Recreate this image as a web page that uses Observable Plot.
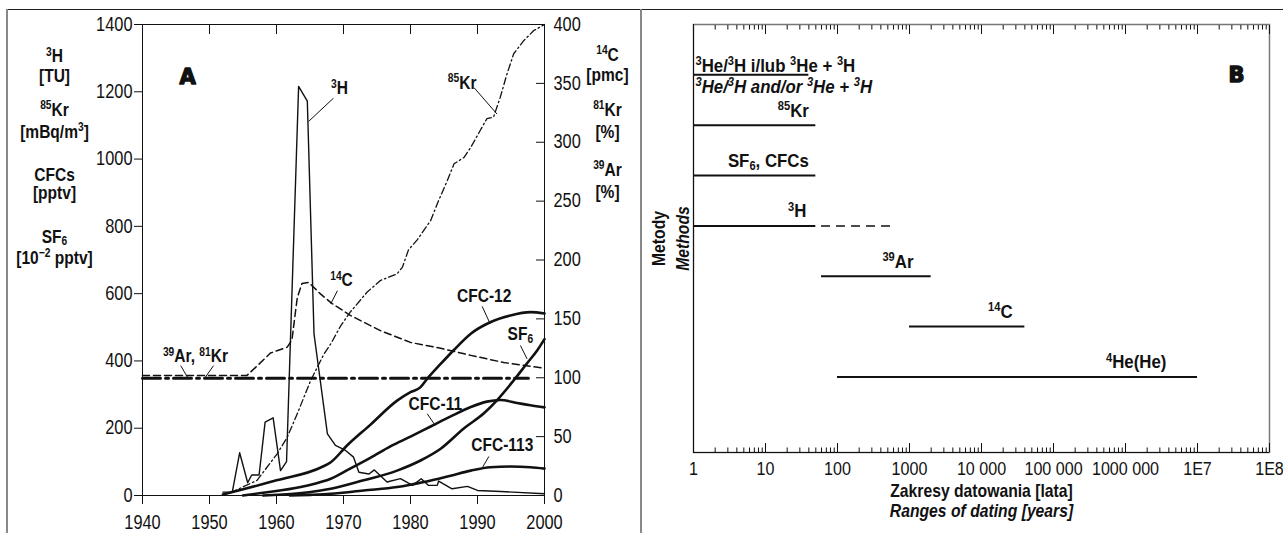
<!DOCTYPE html>
<html><head><meta charset="utf-8">
<script src="https://cdn.jsdelivr.net/npm/d3@7"></script>
<script src="https://cdn.jsdelivr.net/npm/@observablehq/plot@0.6"></script>
<style>
html,body{margin:0;padding:0;background:#fff;}
#wrap{position:relative;width:1283px;height:533px;overflow:hidden;}
#a{position:absolute;left:0;top:0;}
#b{position:absolute;left:640px;top:0;}
#ftop{position:absolute;left:6px;top:9px;width:1277px;height:0;border-top:1px solid #222;}
#fleft{position:absolute;left:6px;top:9px;width:0;height:524px;border-left:2px solid #888;}
#fmid{position:absolute;left:640px;top:9px;width:0;height:524px;border-left:2px solid #888;}
</style>
</head><body>
<div id="wrap"><div id="a"></div><div id="b"></div><div id="ftop"></div><div id="fleft"></div><div id="fmid"></div></div>
<script>
// ---------- Panel A data ----------
const tritiumTU = [[1952,10],[1953.4,10],[1954.5,127],[1955.7,38],[1956.3,61],[1957.4,61],[1958.3,218],[1959.5,231],[1960.6,74],[1961.5,101],[1963.3,1216],[1964.6,1172],[1965.6,480],[1967.6,183],[1968.8,149],[1970.3,134],[1971.5,114],[1972.3,69],[1973.8,64],[1974.6,76],[1976.5,40],[1978.5,50],[1980.3,30],[1981.6,50],[1982.7,30],[1984,30],[1984.2,43],[1986.2,20],[1988.5,27],[1990,15],[1993.5,12],[2000,5]];
const c14pmc = [[1940,102],[1955.6,102],[1957.1,110],[1959.1,121],[1961.6,126],[1962.3,132],[1963.1,168],[1963.8,180],[1964.8,181],[1966.6,171],[1968.3,163],[1971,153],[1975.5,140],[1980,130],[1984.5,125],[1989,119],[1993.9,113],[2000,108]];
const kr85 = [[1953.1,8],[1957.1,45],[1960.1,124],[1961.6,173],[1963.1,243],[1965.1,342],[1967.1,421],[1968.1,451],[1969.6,505],[1971,545],[1973.5,604],[1975.5,639],[1978,659],[1978.8,679],[1979.7,730],[1981,760],[1983,817],[1984.2,877],[1985.5,936],[1986.5,986],[1988,1005],[1989,1035],[1990.4,1085],[1991.4,1120],[1992.4,1125],[1993.4,1184],[1994.4,1253],[1995.4,1313],[1996.9,1352],[1998.4,1382],[2000,1400]];
const cfc12 = [[1952,3],[1953,8],[1960,45],[1966.7,84],[1968.1,99],[1970.6,150],[1974,210],[1978,282],[1980,307],[1981.5,322],[1982.5,347],[1984.5,391],[1986.4,431],[1989,481],[1991.9,515],[1994.9,535],[1997.9,545],[2000,541]];
const cfc11 = [[1955,0],[1958,8],[1963.6,25],[1966.6,40],[1968.1,50],[1971,80],[1974,112],[1977,146],[1980,175],[1983,205],[1986,235],[1989,263],[1991.4,279],[1993.4,284],[1995.9,275],[1997.9,268],[2000,262]];
const sf6 = [[1958,0],[1963,6],[1966.6,15],[1968.1,20],[1973,45],[1978,74],[1981.5,104],[1984.5,139],[1988,200],[1991,245],[1992.9,283],[1995.4,342],[1997.4,393],[1998.9,431],[2000,465]];
const cfc113 = [[1962,0],[1965,2],[1968.1,5],[1973,15],[1978,25],[1982,40],[1986,59],[1989,74],[1991.9,84],[1994.9,86],[1997.9,84],[2000,80]];
const arKr = [[1940,99.5],[1997.6,99.5]];

const leftTicks = [0,200,400,600,800,1000,1200,1400];
const rightTicks = [0,50,100,150,200,250,300,350,400];
const yearTicks = [1940,1950,1960,1970,1980,1990,2000];

// annotation labels (data coordinates)
const seriesLabels = [
  {t:"³H", x:1969.4, y:1210},
  {t:"⁸⁵Kr", x:1987.7, y:1226},
  {t:"¹⁴C", x:1969.7, y:639},
  {t:"CFC-12", x:1991.0, y:594},
  {t:"SF₆", x:1996.4, y:481},
  {t:"CFC-11", x:1983.7, y:273},
  {t:"CFC-113", x:1993.7, y:150},
  {t:"³⁹Ar, ⁸¹Kr", x:1947.9, y:413}
];
const leaders = [
  [1968.5,1181,1964.8,1112],[1989.5,1212,1992.9,1134],[1969.1,609,1968.1,570],
  [1990.7,562,1991.9,510],[1996.4,446,1997.4,406],[1982.5,243,1983.7,208],
  [1991.7,116,1990.7,82],[1945.7,386,1946.7,352],[1950.6,386,1949.4,352]
];
const leftTitles = ["³H","[TU]","⁸⁵Kr","[mBq/m³]","CFCs","[pptv]","SF₆","[10⁻² pptv]"];
const leftTitleBase = [61.7,81.7,115,137,180,198,242,263];
const rightTitles = ["¹⁴C","[pmc]","⁸¹Kr","[%]","³⁹Ar","[%]"];
const rightTitleBase = [60,80,115,137,175,197];

// ---------- Panel B data ----------
const methods = ["³He/³H","⁸⁵Kr","SF₆, CFCs","³H","³⁹Ar","¹⁴C","⁴He(He)"];
const rangeStart = [1,1,1,1,60,1000,100];
const rangeEnd = [40,50,50,50,2000,40000,1e7];
const h3Extension = [60,600];
const methodLabelAt = [null,40,40,37,1136,27000,3.7e6];
const majorTicks = [1,10,100,1e3,1e4,1e5,1e6,1e7,1e8];
const majorLabels = ["1","10","100","1000","10 000","100 000","1000 000","1E7","1E8"];
const minorTicks = d3.range(0,8).flatMap(e => d3.range(2,10).map(m => m*Math.pow(10,e)));
const titlesB = ["Metody","Methods","Zakresy datowania [lata]","Ranges of dating [years]"];

const FONT = "'Liberation Sans',Arial,Helvetica,sans-serif";
const LABEL_SIZE = 18.5;
const R = 1400/400;
const px = d => d[0], py = d => d[1];
const BL = {fontWeight: "bold", fontSize: LABEL_SIZE, fill: "#111"};

const pA = Plot.plot({
  width: 640, height: 533,
  marginLeft: 142, marginRight: 96, marginTop: 24, marginBottom: 38,
  style: {fontFamily: FONT, fontSize: "19.5px", color: "#111", background: "transparent", overflow: "visible"},
  x: {domain: [1940, 2000]},
  y: {domain: [0, 1400]},
  marks: [
    Plot.frame({stroke: "#111"}),
    Plot.axisY({anchor: "left", ticks: leftTicks, tickFormat: d => String(d), tickSize: 8, tickPadding: 2, label: null, fontSize: 19.5}),
    Plot.axisY({anchor: "right", ticks: rightTicks.map(v => v*R), tickFormat: d => String(Math.round(d/R)), tickSize: -9, tickPadding: 18, label: null, fontSize: 19.5}),
    Plot.axisX({anchor: "bottom", ticks: yearTicks, tickFormat: d => String(d), tickSize: 9, tickPadding: 11, label: null, fontSize: 19.5}),
    Plot.axisX({anchor: "top", ticks: yearTicks.slice(1,-1), tickSize: -9, tickFormat: () => "", label: null}),
    Plot.line(arKr, {x: px, y: d => d[1]*R, stroke: "#111", strokeWidth: 3, strokeDasharray: "18,5,3,5"}),
    Plot.line(c14pmc, {x: px, y: d => d[1]*R, stroke: "#111", strokeWidth: 1.5, strokeDasharray: "7,4"}),
    Plot.line(kr85, {x: px, y: py, stroke: "#111", strokeWidth: 1.3, strokeDasharray: "7,3,1.5,3"}),
    Plot.line(tritiumTU, {x: px, y: py, stroke: "#111", strokeWidth: 1.4}),
    Plot.line(cfc12, {x: px, y: py, stroke: "#111", strokeWidth: 2.6, curve: "monotone-x"}),
    Plot.line(cfc11, {x: px, y: py, stroke: "#111", strokeWidth: 2.6, curve: "monotone-x"}),
    Plot.line(sf6, {x: px, y: py, stroke: "#111", strokeWidth: 2.6, curve: "monotone-x"}),
    Plot.line(cfc113, {x: px, y: py, stroke: "#111", strokeWidth: 2.6, curve: "monotone-x"}),
    Plot.link(leaders, {x1: d => d[0], y1: d => d[1], x2: d => d[2], y2: d => d[3], stroke: "#111", strokeWidth: 1}),
    Plot.text(seriesLabels, {x: "x", y: "y", text: "t", ...BL}),
    Plot.text(["A"], {frameAnchor: "top-left", textAnchor: "middle", dx: 45, dy: 45, fontFamily: "DejaVu Sans", fontWeight: "bold", fontSize: 21, stroke: "#111", strokeWidth: 1.4, fill: "#111"}),
    ...leftTitles.map((t, i) => Plot.text([t], {frameAnchor: "top-left", textAnchor: "middle", dx: -88, dy: leftTitleBase[i] - 24, lineAnchor: "bottom", ...BL})),
    ...rightTitles.map((t, i) => Plot.text([t], {frameAnchor: "top-right", textAnchor: "middle", dx: 63, dy: rightTitleBase[i] - 24, lineAnchor: "bottom", ...BL}))
  ]
});
document.getElementById("a").appendChild(pA);

const bars = methods.map((m, i) => ({m, i: i + 1, start: rangeStart[i], end: rangeEnd[i], at: methodLabelAt[i]}));

const pB = Plot.plot({
  width: 643, height: 533,
  marginLeft: 53, marginRight: 14, marginTop: 24, marginBottom: 81,
  style: {fontFamily: FONT, fontSize: "19px", color: "#111", background: "transparent", overflow: "visible"},
  x: {type: "log", domain: [1, 1e8]},
  y: {domain: [0, 8.5], reverse: true, axis: null},
  marks: [
    Plot.frame({stroke: "#777", strokeWidth: 1.5}),
    Plot.ruleX([1], {stroke: "#111"}),
    Plot.ruleY([8.5], {stroke: "#111"}),
    Plot.axisX({anchor: "bottom", ticks: majorTicks, tickFormat: d => majorLabels[majorTicks.indexOf(d)], tickSize: -9, tickPadding: 18, label: null, fontSize: 18.5}),
    Plot.axisX({anchor: "bottom", ticks: minorTicks, tickFormat: () => "", tickSize: -4.5, label: null}),
    Plot.axisX({anchor: "top", ticks: majorTicks, tickFormat: () => "", tickSize: -9, label: null}),
    Plot.axisX({anchor: "top", ticks: minorTicks, tickFormat: () => "", tickSize: -4.5, label: null}),
    Plot.ruleY(bars, {y: "i", x1: "start", x2: "end", stroke: "#111", strokeWidth: 2}),
    Plot.ruleY([h3Extension], {y: 4, x1: d => d[0], x2: d => d[1], stroke: "#111", strokeWidth: 1.5, strokeDasharray: "9,6"}),
    Plot.text(bars.filter(d => d.at), {x: "at", y: "i", text: "m", textAnchor: "end", lineAnchor: "bottom", dy: -8.5, ...BL}),
    Plot.text(["³He/³H i/lub ³He + ³H"], {x: 1.066, y: 1, textAnchor: "start", lineAnchor: "bottom", dy: -3, ...BL}),
    Plot.text(["³He/³H and/or ³He + ³H"], {x: 1.066, y: 1, textAnchor: "start", lineAnchor: "bottom", dy: 18, fontStyle: "italic", ...BL}),
    Plot.text([titlesB[0]], {frameAnchor: "left", textAnchor: "middle", dx: -34, rotate: -90, ...BL}),
    Plot.text([titlesB[1]], {frameAnchor: "left", textAnchor: "middle", dx: -10, rotate: -90, fontStyle: "italic", ...BL}),
    Plot.text([titlesB[2]], {frameAnchor: "bottom", dy: 44, ...BL}),
    Plot.text([titlesB[3]], {frameAnchor: "bottom", dy: 64, fontStyle: "italic", ...BL}),
    Plot.text(["B"], {frameAnchor: "top-right", textAnchor: "middle", dx: -33, dy: 43, fontFamily: "DejaVu Sans", fontWeight: "bold", fontSize: 21, stroke: "#111", strokeWidth: 1.4, fill: "#111"})
  ]
});
document.getElementById("b").appendChild(pB);

// typographic post-processing: real superscript/subscript tspans and a condensed look
const SUP = {"⁰":"0","¹":"1","²":"2","³":"3","⁴":"4","⁵":"5","⁶":"6","⁷":"7","⁸":"8","⁹":"9","⁻":"−"};
const SUB = {"₀":"0","₁":"1","₂":"2","₃":"3","₄":"4","₅":"5","₆":"6","₇":"7","₈":"8","₉":"9"};
function scriptify(el, fs) {
  const s = el.textContent;
  if (![...s].some(c => SUP[c] || SUB[c])) return;
  const runs = [];
  for (const c of s) {
    const k = SUP[c] ? "sup" : SUB[c] ? "sub" : "n";
    const ch = SUP[c] || SUB[c] || c;
    if (runs.length && runs[runs.length - 1].k === k) runs[runs.length - 1].t += ch;
    else runs.push({k, t: ch});
  }
  el.textContent = "";
  let cur = 0;
  for (const r of runs) {
    const ts = document.createElementNS("http://www.w3.org/2000/svg", "tspan");
    const target = r.k === "sup" ? -0.36 * fs : r.k === "sub" ? 0.16 * fs : 0;
    ts.setAttribute("dy", (target - cur).toFixed(2));
    cur = target;
    if (r.k !== "n") ts.setAttribute("font-size", (0.66 * fs).toFixed(2));
    ts.textContent = r.t;
    el.appendChild(ts);
  }
}
function squeeze(svg, pick) {
  for (const el of svg.querySelectorAll("text")) {
    const s = el.textContent;
    if (s === "A" || s === "B" || s === "") continue;
    const k = pick(s);
    scriptify(el, LABEL_SIZE);
    const t = el.getAttribute("transform") || "";
    const x = parseFloat(el.getAttribute("x")) || 0, y = parseFloat(el.getAttribute("y")) || 0;
    el.setAttribute("transform", `${t} translate(${x},${y}) scale(${k},1) translate(${-x},${-y})`);
  }
}
squeeze(pA, () => 0.84);
squeeze(pB, s => titlesB.includes(s) ? 0.85 : majorLabels.includes(s) ? 0.87 : 0.91);
</script>
</body></html>
